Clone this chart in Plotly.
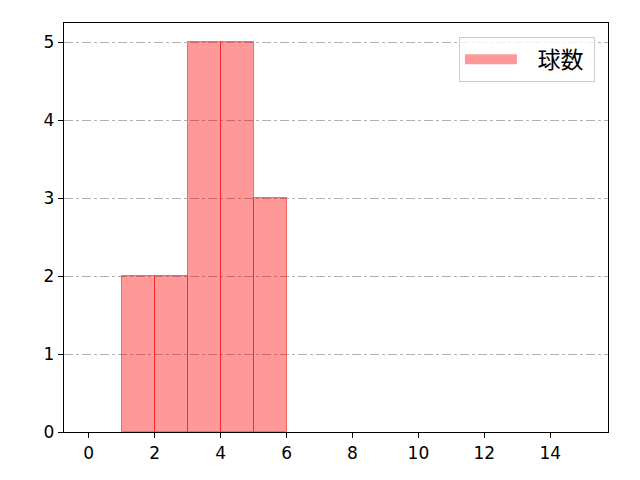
import plotly.graph_objects as go

bin_left = [1, 2, 3, 4, 5]
bin_width = [1, 1, 1, 1, 1]
counts = [2, 2, 5, 5, 3]
series_name = "球数"
x_ticks = [0, 2, 4, 6, 8, 10, 12, 14]
y_ticks = [0, 1, 2, 3, 4, 5]

centers = [l + w / 2 for l, w in zip(bin_left, bin_width)]

fig = go.Figure()
fig.add_trace(go.Bar(
    x=centers, y=counts, width=bin_width, name=series_name,
    marker=dict(color="rgba(255,0,0,0.4)", line=dict(color="rgba(255,0,0,0.5)", width=1)),
    showlegend=False,
))
# legend entry drawn as a wide swatch
fig.add_trace(go.Scatter(
    x=[None], y=[None], mode="lines", name="\u00a0\u00a0\u00a0" + series_name + "\u00a0",
    line=dict(color="rgba(255,0,0,0.4)", width=18),
    showlegend=True,
))

axis_common = dict(
    showline=True, linecolor="black", linewidth=1.3, mirror=True,
    ticks="outside", ticklen=5, tickwidth=1.2, tickcolor="black",
    zeroline=False,
    tickfont=dict(family="DejaVu Sans", size=17, color="black"),
)

fig.update_layout(
    width=632, height=472,
    paper_bgcolor="white", plot_bgcolor="white",
    margin=dict(l=56, r=32, t=15, b=48),
    bargap=0,
    xaxis=dict(range=[-0.75, 15.75], tickvals=x_ticks, showgrid=False, **axis_common),
    yaxis=dict(range=[0, 5.25], tickvals=y_ticks, showgrid=True, gridcolor="#b0b0b0",
               griddash="dashdot", gridwidth=1, **axis_common),
    legend=dict(x=0.976, y=0.966, xanchor="right", yanchor="top", itemwidth=52,
                bordercolor="#cccccc", borderwidth=1, bgcolor="rgba(255,255,255,0.8)",
                font=dict(family="Noto Sans CJK JP", size=23, color="black")),
    font=dict(family="DejaVu Sans"),
)

fig.write_html("out.html")
